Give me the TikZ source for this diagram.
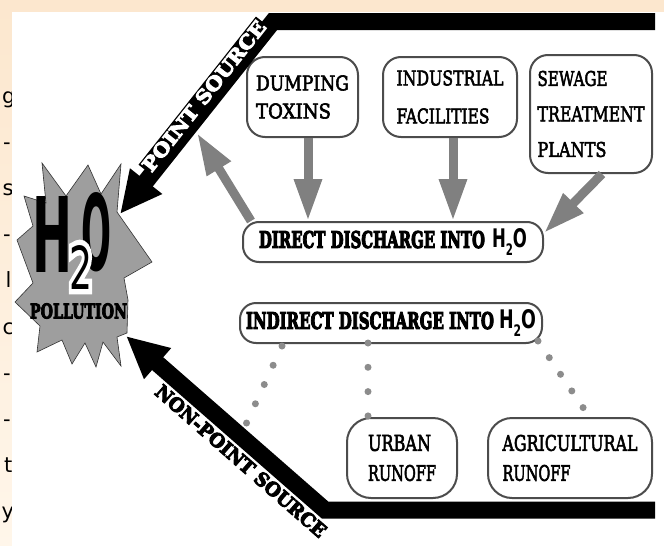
\documentclass[tikz,border=0pt]{standalone}
\usepackage{fontspec}
\usepackage{graphicx}
\setmainfont{DejaVu Serif}
\newfontfamily\slab[FakeBold=3]{DejaVu Serif}
\newfontfamily\heavy[FakeBold=5]{DejaVu Serif Bold}
\newfontfamily\sansf{DejaVu Sans}
\newfontfamily\halofont[FakeBold=18]{DejaVu Sans}
\usetikzlibrary{arrows.meta,calc}
\newcommand\fitbox[3]{\resizebox{#1}{#2}{#3}}
\newcommand\htwo[2]{\fitbox{#1}{#2}{\sansf\bfseries H\raisebox{-0.28em}{\scalebox{0.62}{2}}O}}
\definecolor{peachtop}{RGB}{252,231,206}
\definecolor{peachbot}{RGB}{255,246,234}
\begin{document}
\begin{tikzpicture}[x=1pt,y=-1pt,
  src/.style={draw=black!70, line width=2pt, rounded corners=18pt, fill=white,
    align=left, inner sep=0pt, font=\slab\fontsize{15}{#1}\selectfont},
  pill/.style={draw=black!70, line width=2pt, rounded corners=16pt, fill=white,
    inner sep=0pt, font=\slab\fontsize{15}{18}\selectfont},
  band/.style={draw=black, line width=17pt, line join=miter,
    -{Triangle[width=38pt,length=42pt]}},
  garrow/.style={draw=black!50, line width=9pt,
    -{Triangle[width=26pt,length=42pt]}},
  dotline/.style={draw=black!45, line width=7pt, line cap=round,
    dash pattern=on 0pt off #1, shorten >=-3pt},
  stripc/.style={anchor=base west, inner sep=0pt,
    font=\sansf\fontsize{21}{21}\selectfont},
  plain/.style={inner sep=0pt}
]
\useasboundingbox (0,0) rectangle (664,546);
% background
\shade[top color=peachtop, bottom color=peachbot] (0,0) rectangle (664,546);
\node[stripc] (L1) at (2,103) {g};
\node[stripc] (L2) at (3,149.2) {-};
\node[stripc] (L3) at (2.5,195.4) {s};
\node[stripc] (L4) at (3,241.6) {-};
\node[stripc] (L5) at (5.5,287.8) {l};
\node[stripc] (L6) at (2.5,334) {c};
\node[stripc] (L7) at (3,380.2) {-};
\node[stripc] (L8) at (3,426.4) {-};
\node[stripc] (L9) at (4,472.6) {t};
\node[stripc] (L10) at (1.5,518.8) {y};
\fill[white] (12,12) rectangle (664,546);

% star
\filldraw[draw=black!80, line width=0.6pt, fill=black!38]
  (42,163) -- (66,196) -- (88,165) -- (101,194) -- (121,164) -- (117,212)
  -- (152,262) -- (124,278) -- (128,300) -- (127,333) -- (117,337)
  -- (121,366) -- (103,342) -- (96,367) -- (85,343) -- (72,364) -- (62,340)
  -- (37,352) -- (40,326) -- (15,302) -- (33,283) -- (17,240) -- (33,226)
  -- (24,196) -- (46,203) -- cycle;
\node[plain] (hH) at (53,234) {\fitbox{40pt}{76pt}{\sansf\bfseries H}};
\node[plain] (hO) at (97,232) {\fitbox{30pt}{78pt}{\sansf\bfseries O}};
\node[plain] (h2) at (81,267) {\fitbox{23pt}{44pt}{\rlap{\color{white}\halofont 2}\sansf 2}};
\node[plain] (poll) at (78.5,311) {\fitbox{97pt}{15pt}{\heavy POLLUTION}};

% boxes
\node[src=28pt, minimum width=111pt, minimum height=80pt] (dump) at (302.5,97)
  {\fitbox{93pt}{15pt}{DUMPING}\\\fitbox{75pt}{15pt}{TOXINS}};
\node[src=38pt, minimum width=134pt, minimum height=80pt] (ind) at (450,97)
  {\fitbox{107pt}{15pt}{INDUSTRIAL}\\\fitbox{93pt}{15pt}{FACILITIES}};
\node[src=35.5pt, minimum width=122pt, minimum height=118pt] (sew) at (591,114)
  {\fitbox{70pt}{15pt}{SEWAGE}\\\fitbox{107pt}{15pt}{TREATMENT}\\\fitbox{69pt}{15pt}{PLANTS}};
\node[src=30pt, minimum width=110pt, minimum height=80pt, rounded corners=24pt] (urban) at (402,458)
  {\fitbox{63pt}{16pt}{URBAN}\\\fitbox{68pt}{16pt}{RUNOFF}};
\node[src=30pt, minimum width=164pt, minimum height=80pt, rounded corners=24pt] (agri) at (570,458)
  {\fitbox{135pt}{16pt}{AGRICULTURAL}\\\fitbox{68pt}{16pt}{RUNOFF}};
\node[pill, minimum width=300pt, minimum height=40pt] (direct) at (393,242)
  {\fitbox{226pt}{17pt}{\heavy DIRECT DISCHARGE INTO}\hspace{7pt}\htwo{35pt}{19pt}\hspace{14pt}};
\node[pill, minimum width=302pt, minimum height=40pt] (indirect) at (391,323)
  {\fitbox{248pt}{17pt}{\heavy INDIRECT DISCHARGE INTO}\hspace{5pt}\htwo{37pt}{19pt}};

% band coordinates
\coordinate (psEnd) at (655,21.5);
\coordinate (psCorner) at (273,21.5);
\coordinate (psTip) at (120,214);
\coordinate (psHit) at (197,133);
\coordinate (npEnd) at (655,510);
\coordinate (npCorner) at (325,510);
\coordinate (npTip) at (126,336);
\coordinate (npHit) at (247,422);

% gray arrows
\coordinate (d1) at ($(dump.south)+(5.5,0)$);
\coordinate (i1) at ($(ind.south)+(3,0)$);
\draw[garrow] (d1) -- (d1 |- direct.north);
\draw[garrow] (i1) -- (i1 |- direct.north);
\draw[garrow] ($(sew.south)+(11,0)$) -- ($(direct.east)+(0,-9)$);
\draw[garrow] ($(direct.north west)+(9,0)$) -- (psHit);

% bands
\draw[band] (psEnd) -- (psCorner) -- (psTip);
\draw[band] (npEnd) -- (npCorner) -- (npTip);
\node[rotate=51.6, fill=black, text=white, inner sep=1.5pt] (pslabel) at (204,96)
  {\fitbox{186pt}{14pt}{\heavy POINT SOURCE}};
\node[rotate=-41.2, plain] (nplabel) at (241,461)
  {\fitbox{220pt}{14pt}{\heavy NON-POINT SOURCE}};

% dotted links
\draw[dotline=21.2pt] ($(indirect.south west)+(43,2)$) -- (npHit);
\draw[dotline=24.3pt] ($(indirect.south)+(-23,-1)$) -- ($(urban.north)+(-34,-3)$);
\draw[dotline=20.1pt] ($(indirect.south east)+(-5,-3)$) -- ($(agri.north)+(12,-11)$);
\end{tikzpicture}
\end{document}
